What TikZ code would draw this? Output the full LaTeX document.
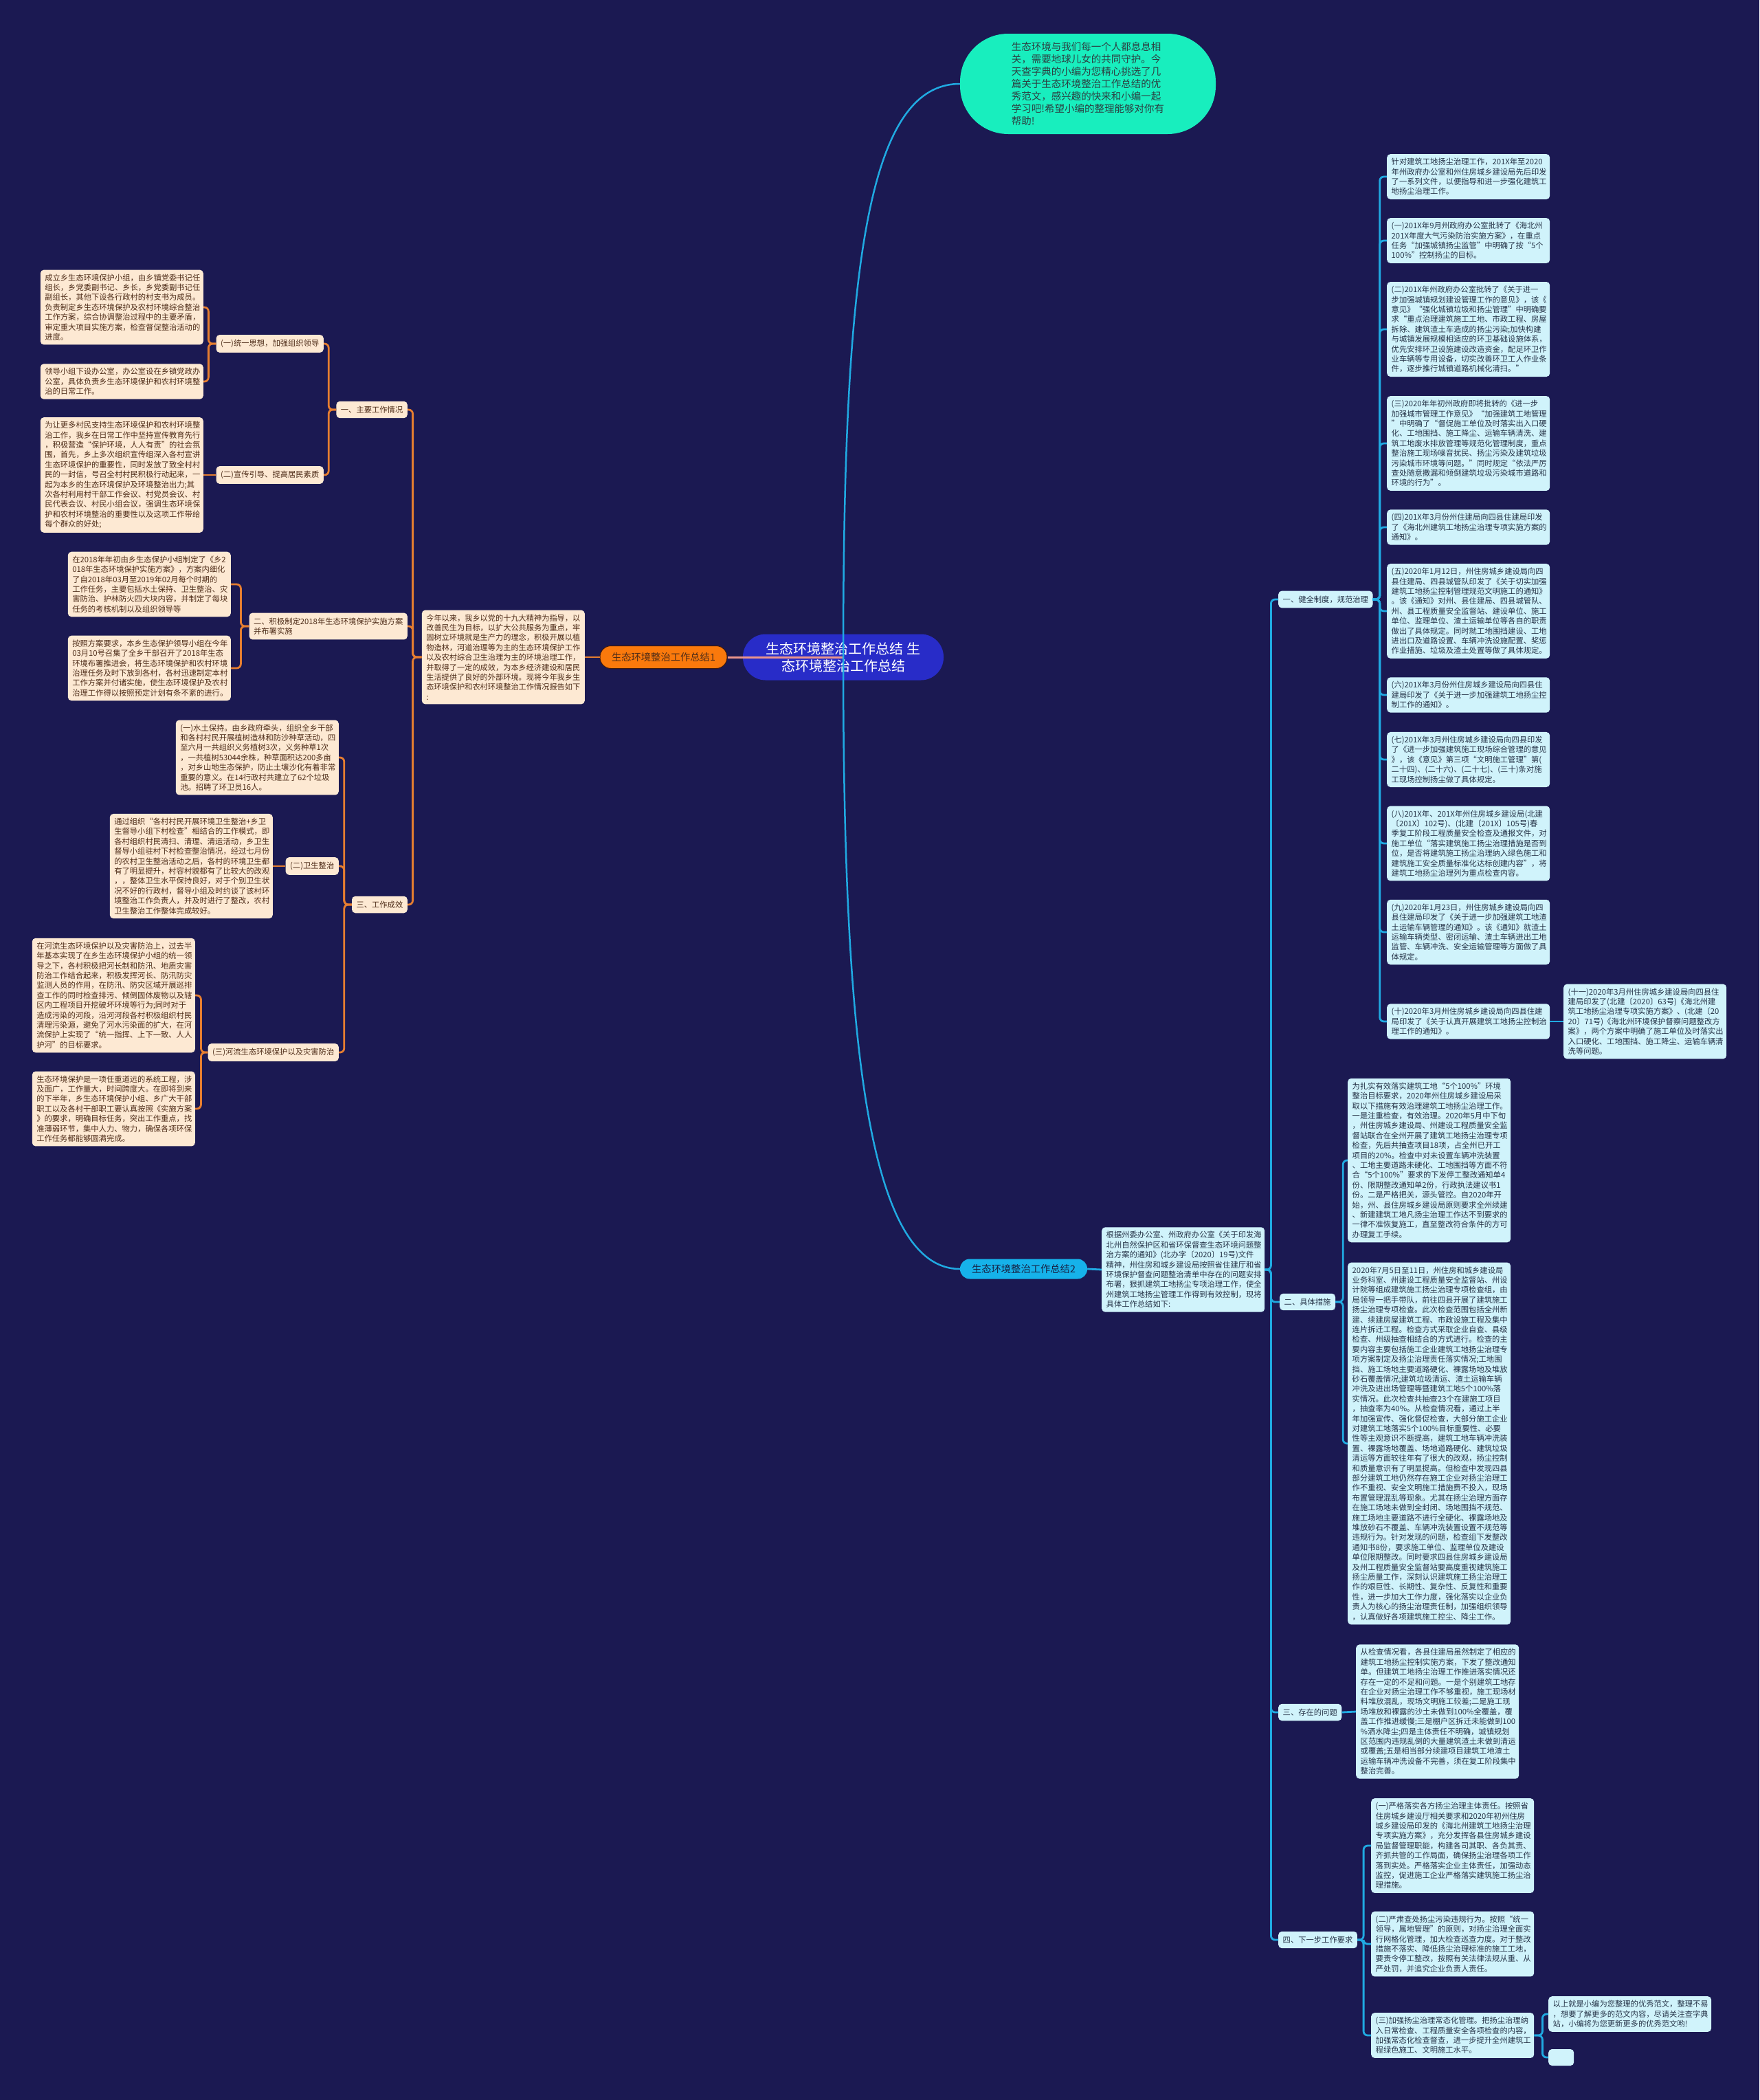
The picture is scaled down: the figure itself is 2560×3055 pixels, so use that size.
\documentclass[tikz,border=0pt]{standalone}
\usepackage{fontspec}
\setmainfont{Noto Sans CJK SC}
\definecolor{navybg}{RGB}{27,25,82}
\definecolor{peach}{RGB}{253,233,211}
\definecolor{brownink}{RGB}{78,44,24}
\definecolor{icecyan}{RGB}{208,243,251}
\definecolor{slateink}{RGB}{38,52,72}
\definecolor{linkorange}{RGB}{230,126,48}
\definecolor{linkcyan}{RGB}{32,170,226}
\definecolor{linkpink}{RGB}{236,150,140}
\definecolor{rootblue}{RGB}{40,44,200}
\definecolor{mint}{RGB}{24,238,190}
\definecolor{mintink}{RGB}{44,64,66}
\definecolor{flame}{RGB}{250,121,12}
\definecolor{rim}{RGB}{60,24,14}
\definecolor{skyblue}{RGB}{22,178,234}
\definecolor{skyink}{RGB}{22,32,66}
\begin{document}
\begin{tikzpicture}[x=1pt,y=-1pt,
  txt/.style={font=\fontsize{11.3}{14.4}\selectfont, align=left, rounded corners=5pt, inner xsep=6.5pt, inner ysep=6pt},
  pbox/.style={txt, fill=peach, text=brownink, text width=224pt},
  plabel/.style={txt, fill=peach, text=brownink, inner ysep=7pt},
  cbox/.style={txt, fill=icecyan, text=slateink, text width=224pt},
  clabel/.style={txt, fill=icecyan, text=slateink, inner ysep=7pt},
  olink/.style={draw=linkorange, line width=2.8pt, rounded corners=6pt},
  clink/.style={draw=linkcyan, line width=2.8pt, rounded corners=6pt}]
\fill[navybg] (0,0) rectangle (2560,3055);
\useasboundingbox (0,0) rectangle (2560,3055);

% root and first level
\node[fill=rootblue, text=white, font=\fontsize{20}{25}\selectfont, align=center, rounded corners=33pt, minimum width=292pt, minimum height=67pt, inner sep=0pt] (root) at (1227,956) {生态环境整治工作总结 生\\态环境整治工作总结};
\node[fill=mint, text=mintink, font=\fontsize{14.5}{18}\selectfont, align=left, rounded corners=70pt, minimum width=372pt, minimum height=146pt, inner sep=0pt] (intro) at (1583,122) {生态环境与我们每一个人都息息相\\关，需要地球儿女的共同守护。今\\天查字典的小编为您精心挑选了几\\篇关于生态环境整治工作总结的优\\秀范文，感兴趣的快来和小编一起\\学习吧!希望小编的整理能够对你有\\帮助!};
\node[fill=flame, draw=rim, line width=1pt, text=brownink, font=\fontsize{14.3}{17}\selectfont, rounded corners=16pt, minimum width=185pt, minimum height=33pt, inner sep=0pt] (sum1) at (965.5,956) {生态环境整治工作总结1};
\node[fill=skyblue, text=skyink, font=\fontsize{14.3}{17}\selectfont, rounded corners=14pt, minimum width=185pt, minimum height=29pt, inner sep=0pt] (sum2) at (1489.5,1846) {生态环境整治工作总结2};
\draw[draw=linkpink, line width=3pt] (root.center) -- (sum1.east);
\draw[draw=linkcyan, line width=2.5pt] (root.center) .. controls (1227,400) and (1260,122) .. (intro.west);
\draw[draw=linkcyan, line width=2.5pt] (root.center) .. controls (1227,1500) and (1260,1846) .. (sum2.west);

% left branch
\node[pbox, font=\fontsize{11.2}{14.4}\selectfont, anchor=east] (open1) at (851,956) {今年以来，我乡以党的十九大精神为指导，以\\改善民生为目标，以扩大公共服务为重点，牢\\固树立环境就是生产力的理念，积极开展以植\\物造林，河道治理等为主的生态环境保护工作\\以及农村综合卫生治理为主的环境治理工作，\\并取得了一定的成效，为本乡经济建设和居民\\生活提供了良好的外部环境。现将今年我乡生\\态环境保护和农村环境整治工作情况报告如下\\:};
\node[plabel, anchor=east] (work) at (593,596) {一、主要工作情况};
\node[plabel, anchor=east] (plan) at (593,911) {二、积极制定2018年生态环境保护实施方案\\并布署实施};
\node[plabel, anchor=east] (effect) at (593,1316) {三、工作成效};
\node[plabel, anchor=east] (unify) at (471,500) {(一)统一思想，加强组织领导};
\node[plabel, anchor=east] (publicity) at (471,691) {(二)宣传引导、提高居民素质};
\node[pbox, anchor=east] (group) at (296,447) {成立乡生态环境保护小组，由乡镇党委书记任\\组长，乡党委副书记、乡长，乡党委副书记任\\副组长，其他下设各行政村的村支书为成员。\\负责制定乡生态环境保护及农村环境综合整治\\工作方案，综合协调整治过程中的主要矛盾，\\审定重大项目实施方案，检查督促整治活动的\\进度。};
\node[pbox, anchor=east] (office) at (296,555) {领导小组下设办公室，办公室设在乡镇党政办\\公室，具体负责乡生态环境保护和农村环境整\\治的日常工作。};
\node[pbox, anchor=east] (villagers) at (296,691) {为让更多村民支持生态环境保护和农村环境整\\治工作，我乡在日常工作中坚持宣传教育先行\\，积极营造“保护环境，人人有责”的社会氛\\围，首先，乡上多次组织宣传组深入各村宣讲\\生态环境保护的重要性，同时发放了致全村村\\民的一封信，号召全村村民积极行动起来，一\\起为本乡的生态环境保护及环境整治出力;其\\次各村利用村干部工作会议、村党员会议、村\\民代表会议、村民小组会议，强调生态环境保\\护和农村环境整治的重要性以及这项工作带给\\每个群众的好处;};
\node[pbox, anchor=east] (scheme) at (336,850) {在2018年年初由乡生态保护小组制定了《乡2\\018年生态环境保护实施方案》，方案内细化\\了自2018年03月至2019年02月每个时期的\\工作任务，主要包括水土保持、卫生整治、灾\\害防治、护林防火四大块内容，并制定了每块\\任务的考核机制以及组织领导等};
\node[pbox, anchor=east] (meeting) at (336,972) {按照方案要求，本乡生态保护领导小组在今年\\03月10号召集了全乡干部召开了2018年生态\\环境布署推进会，将生态环境保护和农村环境\\治理任务及时下放到各村，各村迅速制定本村\\工作方案并付诸实施，使生态环境保护及农村\\治理工作得以按照预定计划有条不紊的进行。};
\node[pbox, anchor=east] (soil) at (493,1102) {(一)水土保持。由乡政府牵头，组织全乡干部\\和各村村民开展植树造林和防沙种草活动，四\\至六月一共组织义务植树3次，义务种草1次\\，一共植树53044余株，种草面积达200多亩\\，对乡山地生态保护，防止土壤沙化有着非常\\重要的意义。在14行政村共建立了62个垃圾\\池。招聘了环卫员16人。};
\node[plabel, anchor=east] (hygiene) at (493,1260) {(二)卫生整治};
\node[plabel, anchor=east] (river) at (493,1531) {(三)河流生态环境保护以及灾害防治};
\node[pbox, anchor=east] (cleanup) at (397,1260) {通过组织“各村村民开展环境卫生整治+乡卫\\生督导小组下村检查”相结合的工作模式，即\\各村组织村民清扫、清理、清运活动，乡卫生\\督导小组驻村下村检查整治情况，经过七月份\\的农村卫生整治活动之后，各村的环境卫生都\\有了明显提升，村容村貌都有了比较大的改观\\，，整体卫生水平保持良好，对于个别卫生状\\况不好的行政村，督导小组及时约谈了该村环\\境整治工作负责人，并及时进行了整改，农村\\卫生整治工作整体完成较好。};
\node[pbox, anchor=east] (flood) at (284,1448) {在河流生态环境保护以及灾害防治上，过去半\\年基本实现了在乡生态环境保护小组的统一领\\导之下，各村积极把河长制和防汛、地质灾害\\防治工作结合起来，积极发挥河长、防汛防灾\\监测人员的作用，在防汛、防灾区域开展巡排\\查工作的同时检查排污、倾倒固体废物以及辖\\区内工程项目开挖破坏环境等行为;同时对于\\造成污染的河段，沿河河段各村积极组织村民\\清理污染源，避免了河水污染面的扩大，在河\\流保护上实现了“统一指挥、上下一致、人人\\护河”的目标要求。};
\node[pbox, anchor=east] (outlook) at (284,1613) {生态环境保护是一项任重道远的系统工程，涉\\及面广，工作量大，时间跨度大。在即将到来\\的下半年，乡生态环境保护小组、乡广大干部\\职工以及各村干部职工要认真按照《实施方案\\》的要求，明确目标任务，突出工作重点，找\\准薄弱环节，集中人力、物力，确保各项环保\\工作任务都能够圆满完成。};
\draw[olink] (sum1.west) -- (open1.east);
\draw[olink] (open1.west) -- ++(-13,0) |- (work.east);
\draw[olink] (open1.west) -- ++(-13,0) |- (plan.east);
\draw[olink] (open1.west) -- ++(-13,0) |- (effect.east);
\draw[olink] (work.west) -- ++(-11,0) |- (unify.east);
\draw[olink] (work.west) -- ++(-11,0) |- (publicity.east);
\draw[olink] (unify.west) -- ++(-11,0) |- (group.east);
\draw[olink] (unify.west) -- ++(-11,0) |- (office.east);
\draw[olink] (publicity.west) -- (villagers.east);
\draw[olink] (plan.west) -- ++(-12,0) |- (scheme.east);
\draw[olink] (plan.west) -- ++(-12,0) |- (meeting.east);
\draw[olink] (effect.west) -- ++(-11,0) |- (soil.east);
\draw[olink] (effect.west) -- ++(-11,0) |- (hygiene.east);
\draw[olink] (effect.west) -- ++(-11,0) |- (river.east);
\draw[olink] (hygiene.west) -- (cleanup.east);
\draw[olink] (river.west) -- ++(-10,0) |- (flood.east);
\draw[olink] (river.west) -- ++(-10,0) |- (outlook.east);

% right branch
\node[cbox, anchor=west] (open2) at (1603,1847) {根据州委办公室、州政府办公室《关于印发海\\北州自然保护区和省环保督查生态环境问题整\\治方案的通知》(北办字〔2020〕19号)文件\\精神，州住房和城乡建设局按照省住建厅和省\\环境保护督查问题整治清单中存在的问题安排\\布署，狠抓建筑工地扬尘专项治理工作，使全\\州建筑工地扬尘管理工作得到有效控制，现将\\具体工作总结如下:};
\node[clabel, anchor=west] (rules) at (1860,872) {一、健全制度，规范治理};
\node[clabel, anchor=west] (measures) at (1862,1894) {二、具体措施};
\node[clabel, anchor=west] (problems) at (1860,2491) {三、存在的问题};
\node[clabel, anchor=west] (next) at (1860,2822) {四、下一步工作要求};
\node[cbox, anchor=west] (doc0) at (2018,257) {针对建筑工地扬尘治理工作，201X年至2020\\年州政府办公室和州住房城乡建设局先后印发\\了一系列文件，以便指导和进一步强化建筑工\\地扬尘治理工作。};
\node[cbox, anchor=west] (doc1) at (2018,350) {(一)201X年9月州政府办公室批转了《海北州\\201X年度大气污染防治实施方案》，在重点\\任务“加强城镇扬尘监管”中明确了按“5个\\100\%”控制扬尘的目标。};
\node[cbox, anchor=west] (doc2) at (2018,479) {(二)201X年州政府办公室批转了《关于进一\\步加强城镇规划建设管理工作的意见》，该《\\意见》“强化城镇垃圾和扬尘管理”中明确要\\求“重点治理建筑施工工地、市政工程、房屋\\拆除、建筑渣土车造成的扬尘污染;加快构建\\与城镇发展规模相适应的环卫基础设施体系，\\优先安排环卫设施建设改造资金，配足环卫作\\业车辆等专用设备，切实改善环卫工人作业条\\件，逐步推行城镇道路机械化清扫。”};
\node[cbox, anchor=west] (doc3) at (2018,645) {(三)2020年年初州政府即将批转的《进一步\\加强城市管理工作意见》“加强建筑工地管理\\”中明确了“督促施工单位及时落实出入口硬\\化、工地围挡、施工降尘、运输车辆清洗、建\\筑工地废水排放管理等规范化管理制度，重点\\整治施工现场噪音扰民、扬尘污染及建筑垃圾\\污染城市环境等问题。”同时规定“依法严厉\\查处随意撒漏和倾倒建筑垃圾污染城市道路和\\环境的行为”。};
\node[cbox, anchor=west] (doc4) at (2018,767) {(四)201X年3月份州住建局向四县住建局印发\\了《海北州建筑工地扬尘治理专项实施方案的\\通知》。};
\node[cbox, anchor=west] (doc5) at (2018,889) {(五)2020年1月12日，州住房城乡建设局向四\\县住建局、四县城管队印发了《关于切实加强\\建筑工地扬尘控制管理规范文明施工的通知》\\。该《通知》对州、县住建局、四县城管队、\\州、县工程质量安全监督站、建设单位、施工\\单位、监理单位、渣土运输单位等各自的职责\\做出了具体规定。同时就工地围挡建设、工地\\进出口及道路设置、车辆冲洗设施配置、奖惩\\作业措施、垃圾及渣土处置等做了具体规定。};
\node[cbox, anchor=west] (doc6) at (2018,1011) {(六)201X年3月份州住房城乡建设局向四县住\\建局印发了《关于进一步加强建筑工地扬尘控\\制工作的通知》。};
\node[cbox, anchor=west] (doc7) at (2018,1105) {(七)201X年3月州住房城乡建设局向四县印发\\了《进一步加强建筑施工现场综合管理的意见\\》，该《意见》第三项“文明施工管理”第(\\二十四)、(二十六)、(二十七)、(三十)条对施\\工现场控制扬尘做了具体规定。};
\node[cbox, anchor=west] (doc8) at (2018,1227) {(八)201X年、201X年州住房城乡建设局(北建\\〔201X〕102号)、(北建〔201X〕105号)春\\季复工阶段工程质量安全检查及通报文件，对\\施工单位“落实建筑施工扬尘治理措施是否到\\位，是否将建筑施工扬尘治理纳入绿色施工和\\建筑施工安全质量标准化达标创建内容”，将\\建筑工地扬尘治理列为重点检查内容。};
\node[cbox, anchor=west] (doc9) at (2018,1356) {(九)2020年1月23日，州住房城乡建设局向四\\县住建局印发了《关于进一步加强建筑工地渣\\土运输车辆管理的通知》。该《通知》就渣土\\运输车辆类型、密闭运输、渣土车辆进出工地\\监管、车辆冲洗、安全运输管理等方面做了具\\体规定。};
\node[cbox, anchor=west] (doc10) at (2018,1486) {(十)2020年3月州住房城乡建设局向四县住建\\局印发了《关于认真开展建筑工地扬尘控制治\\理工作的通知》。};
\node[cbox, anchor=west] (doc11) at (2275,1486) {(十一)2020年3月州住房城乡建设局向四县住\\建局印发了(北建〔2020〕63号)《海北州建\\筑工地扬尘治理专项实施方案》、(北建〔20\\20〕71号)《海北州环境保护督察问题整改方\\案》，两个方案中明确了施工单位及时落实出\\入口硬化、工地围挡、施工降尘、运输车辆清\\洗等问题。};
\node[cbox, anchor=west] (check1) at (1961,1688) {为扎实有效落实建筑工地“5个100\%”环境\\整治目标要求，2020年州住房城乡建设局采\\取以下措施有效治理建筑工地扬尘治理工作。\\一是注重检查，有效治理。2020年5月中下旬\\，州住房城乡建设局、州建设工程质量安全监\\督站联合在全州开展了建筑工地扬尘治理专项\\检查，先后共抽查项目18项，占全州已开工\\项目的20\%。检查中对未设置车辆冲洗装置\\、工地主要道路未硬化、工地围挡等方面不符\\合“5个100\%”要求的下发停工整改通知单4\\份、限期整改通知单2份，行政执法建议书1\\份。二是严格把关，源头管控。自2020年开\\始，州、县住房城乡建设局原则要求全州续建\\、新建建筑工地凡扬尘治理工作达不到要求的\\一律不准恢复施工，直至整改符合条件的方可\\办理复工手续。};
\node[cbox, anchor=west] (check2) at (1961,2100) {2020年7月5日至11日，州住房和城乡建设局\\业务科室、州建设工程质量安全监督站、州设\\计院等组成建筑施工扬尘治理专项检查组，由\\局领导一把手带队，前往四县开展了建筑施工\\扬尘治理专项检查。此次检查范围包括全州新\\建、续建房屋建筑工程、市政设施工程及集中\\连片拆迁工程。检查方式采取企业自查、县级\\检查、州级抽查相结合的方式进行。检查的主\\要内容主要包括施工企业建筑工地扬尘治理专\\项方案制定及扬尘治理责任落实情况;工地围\\挡、施工场地主要道路硬化、裸露场地及堆放\\砂石覆盖情况;建筑垃圾清运、渣土运输车辆\\冲洗及进出场管理等暨建筑工地5个100\%落\\实情况。此次检查共抽查23个在建施工项目\\，抽查率为40\%。从检查情况看，通过上半\\年加强宣传、强化督促检查，大部分施工企业\\对建筑工地落实5个100\%目标重要性、必要\\性等主观意识不断提高，建筑工地车辆冲洗装\\置、裸露场地覆盖、场地道路硬化、建筑垃圾\\清运等方面较往年有了很大的改观，扬尘控制\\和质量意识有了明显提高。但检查中发现四县\\部分建筑工地仍然存在施工企业对扬尘治理工\\作不重视、安全文明施工措施费不投入，现场\\布置管理混乱等现象。尤其在扬尘治理方面存\\在施工场地未做到全封闭、场地围挡不规范、\\施工场地主要道路不进行全硬化、裸露场地及\\堆放砂石不覆盖、车辆冲洗装置设置不规范等\\违规行为。针对发现的问题，检查组下发整改\\通知书8份，要求施工单位、监理单位及建设\\单位限期整改。同时要求四县住房城乡建设局\\及州工程质量安全监督站要高度重视建筑施工\\扬尘质量工作，深刻认识建筑施工扬尘治理工\\作的艰巨性、长期性、复杂性、反复性和重要\\性，进一步加大工作力度，强化落实以企业负\\责人为核心的扬尘治理责任制，加强组织领导\\，认真做好各项建筑施工控尘、降尘工作。};
\node[cbox, anchor=west] (gaps) at (1973,2490) {从检查情况看，各县住建局虽然制定了相应的\\建筑工地扬尘控制实施方案，下发了整改通知\\单。但建筑工地扬尘治理工作推进落实情况还\\存在一定的不足和问题。一是个别建筑工地存\\在企业对扬尘治理工作不够重视，施工现场材\\料堆放混乱，现场文明施工较差;二是施工现\\场堆放和裸露的沙土未做到100\%全覆盖，覆\\盖工作推进缓慢;三是棚户区拆迁未能做到100\\\%洒水降尘;四是主体责任不明确，城镇规划\\区范围内违规乱倒的大量建筑渣土未做到清运\\或覆盖;五是相当部分续建项目建筑工地渣土\\运输车辆冲洗设备不完善，须在复工阶段集中\\整治完善。};
\node[cbox, anchor=west] (duty) at (1995,2685) {(一)严格落实各方扬尘治理主体责任。按照省\\住房城乡建设厅相关要求和2020年初州住房\\城乡建设局印发的《海北州建筑工地扬尘治理\\专项实施方案》，充分发挥各县住房城乡建设\\局监督管理职能，构建各司其职、各负其责、\\齐抓共管的工作局面，确保扬尘治理各项工作\\落到实处。严格落实企业主体责任，加强动态\\监控，促进施工企业严格落实建筑施工扬尘治\\理措施。};
\node[cbox, anchor=west] (punish) at (1995,2828) {(二)严肃查处扬尘污染违规行为。按照“统一\\领导，属地管理”的原则，对扬尘治理全面实\\行网格化管理，加大检查巡查力度。对于整改\\措施不落实、降低扬尘治理标准的施工工地，\\要责令停工整改，按照有关法律法规从重、从\\严处罚，并追究企业负责人责任。};
\node[cbox, anchor=west] (routine) at (1995,2961) {(三)加强扬尘治理常态化管理。把扬尘治理纳\\入日常检查、工程质量安全各项检查的内容，\\加强常态化检查督查，进一步提升全州建筑工\\程绿色施工、文明施工水平。};
\node[cbox, anchor=west] (closing) at (2253,2930) {以上就是小编为您整理的优秀范文，整理不易\\，想要了解更多的范文内容，尽请关注查字典\\站，小编将为您更新更多的优秀范文哟!};
\node[fill=icecyan, rounded corners=5pt, minimum width=37pt, minimum height=24pt, inner sep=0pt, anchor=west] (blank) at (2253,2993) {};
\draw[clink] (sum2.east) -- (open2.west);
\draw[clink] (open2.east) -- ++(9,0) |- (rules.west);
\draw[clink] (open2.east) -- ++(9,0) |- (measures.west);
\draw[clink] (open2.east) -- ++(9,0) |- (problems.west);
\draw[clink] (open2.east) -- ++(9,0) |- (next.west);
\draw[clink] (rules.east) -- ++(10,0) |- (doc0.west);
\draw[clink] (rules.east) -- ++(10,0) |- (doc1.west);
\draw[clink] (rules.east) -- ++(10,0) |- (doc2.west);
\draw[clink] (rules.east) -- ++(10,0) |- (doc3.west);
\draw[clink] (rules.east) -- ++(10,0) |- (doc4.west);
\draw[clink] (rules.east) -- ++(10,0) |- (doc5.west);
\draw[clink] (rules.east) -- ++(10,0) |- (doc6.west);
\draw[clink] (rules.east) -- ++(10,0) |- (doc7.west);
\draw[clink] (rules.east) -- ++(10,0) |- (doc8.west);
\draw[clink] (rules.east) -- ++(10,0) |- (doc9.west);
\draw[clink] (rules.east) -- ++(10,0) |- (doc10.west);
\draw[clink] (doc10.east) -- (doc11.west);
\draw[clink] (measures.east) -- ++(11,0) |- (check1.west);
\draw[clink] (measures.east) -- ++(11,0) |- (check2.west);
\draw[clink] (problems.east) -- (gaps.west);
\draw[clink] (next.east) -- ++(9,0) |- (duty.west);
\draw[clink] (next.east) -- ++(9,0) |- (punish.west);
\draw[clink] (next.east) -- ++(9,0) |- (routine.west);
\draw[clink] (routine.east) -- ++(12,0) |- (closing.west);
\draw[clink] (routine.east) -- ++(12,0) |- (blank.west);
\end{tikzpicture}
\end{document}
